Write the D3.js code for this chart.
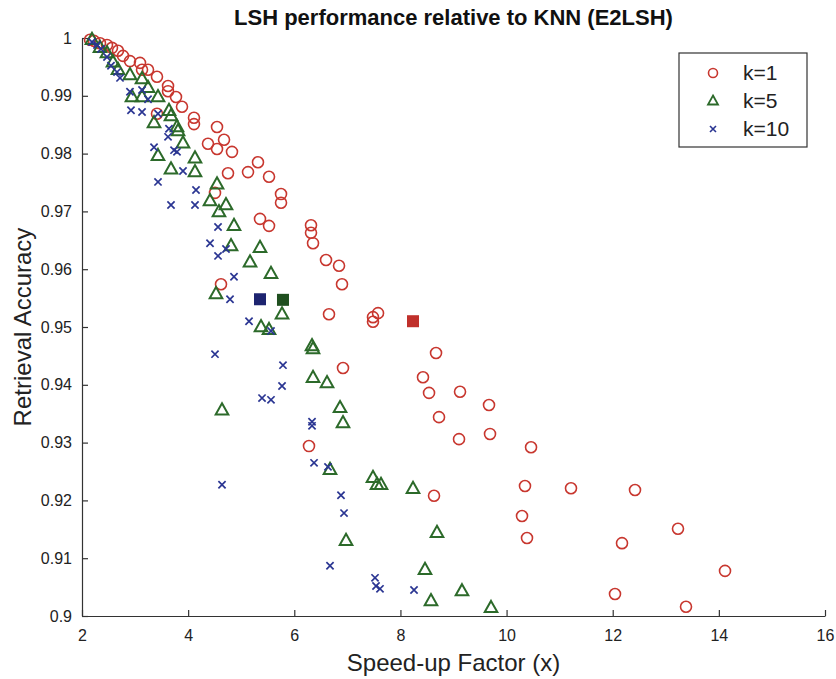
<!DOCTYPE html>
<html>
<head>
<meta charset="utf-8">
<script src="https://d3js.org/d3.v7.min.js"></script>
<style>
  body { margin: 0; background: #fff; }
  text { font-family: "Liberation Sans", Arial, sans-serif; }
</style>
</head>
<body>
<div id="scatter"></div>
<script>
// speed-up factor / retrieval accuracy pairs
var k1Points = [
  [2.151, 0.9997], [2.226, 0.9995], [2.339, 0.9991], [2.471, 0.9988], [2.565, 0.9983],
  [2.678, 0.9978], [2.773, 0.9969], [2.904, 0.9960], [3.093, 0.9957], [3.131, 0.9945],
  [3.244, 0.9945], [3.413, 0.9933], [3.621, 0.9917], [3.621, 0.9908], [3.771, 0.9898],
  [3.884, 0.9881], [3.413, 0.9869], [4.110, 0.9862], [4.110, 0.9851], [4.544, 0.9846],
  [4.676, 0.9824], [4.374, 0.9817], [4.544, 0.9808], [4.826, 0.9803], [5.316, 0.9785],
  [4.751, 0.9766], [5.128, 0.9768], [5.524, 0.9760], [4.506, 0.9732], [5.750, 0.9730],
  [5.750, 0.9715], [5.354, 0.9687], [5.524, 0.9675], [6.315, 0.9676], [6.315, 0.9663],
  [6.353, 0.9645], [6.598, 0.9616], [6.843, 0.9606], [6.899, 0.9574], [4.619, 0.9574],
  [6.654, 0.9522], [7.578, 0.9524], [7.483, 0.9517], [7.483, 0.9509], [8.671, 0.9455],
  [8.425, 0.9413], [8.539, 0.9386], [9.123, 0.9388], [9.669, 0.9365], [8.727, 0.9344],
  [9.104, 0.9306], [9.688, 0.9315], [10.461, 0.9292], [6.918, 0.9429], [6.277, 0.9294],
  [8.633, 0.9208], [10.347, 0.9225], [11.214, 0.9221], [12.420, 0.9218], [10.291, 0.9173],
  [10.385, 0.9135], [13.230, 0.9151], [12.175, 0.9126], [14.116, 0.9078], [12.043, 0.9038],
  [13.381, 0.9016]
];

var k5Points = [
  [2.188, 0.9997], [2.339, 0.9983], [2.471, 0.9974], [2.584, 0.9958], [2.678, 0.9945],
  [2.904, 0.9936], [3.131, 0.9929], [3.244, 0.9914], [2.942, 0.9898], [3.131, 0.9898],
  [3.432, 0.9898], [3.639, 0.9874], [3.677, 0.9865], [3.357, 0.9853], [3.790, 0.9846],
  [3.809, 0.9839], [3.903, 0.9818], [3.432, 0.9796], [4.129, 0.9792], [3.677, 0.9773],
  [4.129, 0.9768], [4.544, 0.9747], [4.412, 0.9718], [4.713, 0.9711], [4.581, 0.9699],
  [4.864, 0.9675], [4.808, 0.9640], [5.354, 0.9637], [5.166, 0.9612], [5.561, 0.9592],
  [4.525, 0.9557], [5.769, 0.9522], [5.373, 0.9500], [5.524, 0.9495], [6.334, 0.9467],
  [6.353, 0.9462], [6.353, 0.9412], [6.617, 0.9403], [6.862, 0.9360], [6.918, 0.9334],
  [4.638, 0.9356], [6.673, 0.9253], [7.483, 0.9239], [7.559, 0.9227], [7.634, 0.9227],
  [8.237, 0.9220], [8.689, 0.9144], [6.975, 0.9130], [8.463, 0.9080], [9.160, 0.9043],
  [8.576, 0.9026], [9.707, 0.9014]
];

var k10Points = [
  [2.188, 0.9993], [2.283, 0.9988], [2.358, 0.9981], [2.471, 0.9967], [2.546, 0.9952],
  [2.660, 0.9941], [2.716, 0.9931], [2.904, 0.9907], [3.131, 0.9910], [3.244, 0.9894],
  [2.923, 0.9875], [3.131, 0.9872], [3.432, 0.9869], [3.639, 0.9843], [3.621, 0.9829],
  [3.357, 0.9811], [3.734, 0.9806], [3.790, 0.9803], [3.903, 0.9770], [3.432, 0.9751],
  [4.148, 0.9737], [3.677, 0.9711], [4.129, 0.9711], [4.563, 0.9673], [4.412, 0.9645],
  [4.713, 0.9635], [4.563, 0.9623], [4.864, 0.9587], [4.789, 0.9548], [5.147, 0.9510],
  [5.561, 0.9493], [4.506, 0.9453], [5.787, 0.9434], [5.769, 0.9398], [5.392, 0.9377],
  [5.561, 0.9374], [6.334, 0.9336], [6.334, 0.9329], [6.372, 0.9265], [6.635, 0.9258],
  [4.638, 0.9227], [6.880, 0.9209], [6.937, 0.9178], [6.673, 0.9087], [7.521, 0.9066],
  [7.540, 0.9052], [7.615, 0.9047], [8.256, 0.9045]
];

// the filled squares (one per k)
var squarePoints = [[8.237, 0.9510], [5.787, 0.9547], [5.354, 0.9548]];
var squareColors = ["#c0302b", "#1f4f1f", "#1d2470"];

var seriesNames = ["k=1", "k=5", "k=10"];
var xTicks = [2, 4, 6, 8, 10, 12, 14, 16];
var yTicks = [0.9, 0.91, 0.92, 0.93, 0.94, 0.95, 0.96, 0.97, 0.98, 0.99, 1];

var svgWidth = 836;
var svgHeight = 679;

var margin = {
  top: 38,
  bottom: 63,
  right: 11,
  left: 82
};

var width = svgWidth - margin.left - margin.right;
var height = svgHeight - margin.top - margin.bottom;

var red = "#c8372f";
var green = "#2c6a2a";
var blue = "#2a3592";

var svg = d3.select("#scatter")
  .append("svg")
  .attr("width", svgWidth)
  .attr("height", svgHeight);

var chartGroup = svg.append("g")
  .attr("transform", `translate(${margin.left}, ${margin.top})`);

// scales
var xLinearScale = d3.scaleLinear()
  .domain([2, 16])
  .range([0, width]);

var yLinearScale = d3.scaleLinear()
  .domain([0.9, 1])
  .range([height, 0]);

// axes, ticks pointing inwards like matlab
var xAxis = d3.axisBottom(xLinearScale)
  .tickValues(xTicks)
  .tickSizeInner(-6)
  .tickSizeOuter(0)
  .tickPadding(14)
  .tickFormat(d3.format("d"));

var yAxis = d3.axisLeft(yLinearScale)
  .tickValues(yTicks)
  .tickSizeInner(-6)
  .tickSizeOuter(0)
  .tickPadding(10)
  .tickFormat(d => d === 1 ? "1" : d3.format(".2~f")(d));

var xg = chartGroup.append("g")
  .attr("transform", `translate(0, ${height})`)
  .call(xAxis);

var yg = chartGroup.append("g")
  .call(yAxis);

[xg, yg].forEach(function(g) {
  g.select(".domain").attr("stroke", "#333").attr("stroke-width", 1.2);
  g.selectAll(".tick line").attr("stroke", "#333").attr("stroke-width", 1.2);
  g.selectAll(".tick text")
    .attr("fill", "#222")
    .style("font-size", "16px")
    .style("font-family", "'Liberation Sans', Arial, sans-serif");
});

// marker drawing helpers
function drawCircles(group, data, r) {
  group.selectAll(null)
    .data(data)
    .enter()
    .append("circle")
    .attr("cx", d => xLinearScale(d[0]))
    .attr("cy", d => yLinearScale(d[1]))
    .attr("r", r)
    .attr("fill", "none")
    .attr("stroke", red)
    .attr("stroke-width", 1.6);
}

var triPath = "M0,-7L6.3,4.2L-6.3,4.2Z";
var crossPath = "M-3.6,-3.6L3.6,3.6M-3.6,3.6L3.6,-3.6";

function drawPaths(group, data, path, color, sw) {
  group.selectAll(null)
    .data(data)
    .enter()
    .append("path")
    .attr("transform", d => `translate(${xLinearScale(d[0])}, ${yLinearScale(d[1])})`)
    .attr("d", path)
    .attr("fill", "none")
    .attr("stroke", color)
    .attr("stroke-width", sw);
}

var markGroup = chartGroup.append("g");

drawCircles(markGroup.append("g"), k1Points, 5.5);
drawPaths(markGroup.append("g"), k5Points, triPath, green, 2);
drawPaths(markGroup.append("g"), k10Points, crossPath, blue, 1.7);

markGroup.append("g").selectAll("rect")
  .data(squarePoints)
  .enter()
  .append("rect")
  .attr("x", d => xLinearScale(d[0]) - 6)
  .attr("y", d => yLinearScale(d[1]) - 6)
  .attr("width", 12)
  .attr("height", 12)
  .attr("fill", (d, i) => squareColors[i]);

// title
svg.append("text")
  .attr("x", margin.left + width / 2)
  .attr("y", 25)
  .attr("text-anchor", "middle")
  .style("font-size", "22px")
  .style("font-weight", "bold")
  .attr("fill", "#111")
  .text("LSH performance relative to KNN (E2LSH)");

// axes labels
svg.append("text")
  .attr("transform", "rotate(-90)")
  .attr("y", 31)
  .attr("x", 0 - (margin.top + height / 2))
  .attr("text-anchor", "middle")
  .style("font-size", "24px")
  .attr("fill", "#222")
  .text("Retrieval Accuracy");

svg.append("text")
  .attr("x", margin.left + width / 2)
  .attr("y", 671)
  .attr("text-anchor", "middle")
  .style("font-size", "24px")
  .attr("fill", "#222")
  .text("Speed-up Factor (x)");

// legend
var legend = svg.append("g")
  .attr("transform", "translate(679, 53)");

legend.append("rect")
  .attr("width", 128)
  .attr("height", 94)
  .attr("fill", "#fff")
  .attr("stroke", "#333")
  .attr("stroke-width", 1.2);

var legendRows = legend.selectAll("g")
  .data(seriesNames)
  .enter()
  .append("g")
  .attr("transform", (d, i) => `translate(34, ${20 + i * 28})`);

legendRows.each(function(d, i) {
  var row = d3.select(this);
  if (i === 0) {
    row.append("circle").attr("r", 4.5).attr("fill", "none")
      .attr("stroke", red).attr("stroke-width", 1.6);
  } else if (i === 1) {
    row.append("path").attr("d", "M0,-5.5L5,3.5L-5,3.5Z").attr("fill", "none")
      .attr("stroke", green).attr("stroke-width", 1.8);
  } else {
    row.append("path").attr("d", "M-3,-3L3,3M-3,3L3,-3").attr("fill", "none")
      .attr("stroke", blue).attr("stroke-width", 1.6);
  }
  row.append("text")
    .attr("x", 30)
    .attr("y", 7)
    .style("font-size", "21px")
    .attr("fill", "#222")
    .text(d);
});
</script>
</body>
</html>
